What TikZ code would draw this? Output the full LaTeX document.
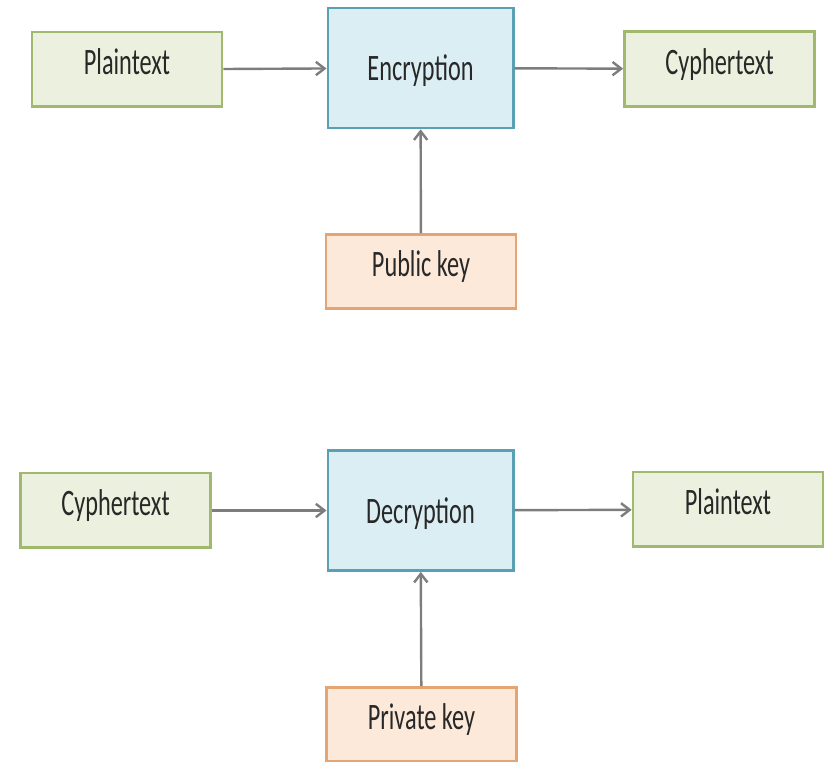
\documentclass[tikz,border=0pt]{standalone}
\usepackage{fontspec}
\setmainfont{Carlito}[FakeStretch=0.65]
\usetikzlibrary{arrows.meta,positioning}

\definecolor{plainfill}{RGB}{235,241,222}
\definecolor{plainline}{RGB}{160,185,110}
\definecolor{cryptfill}{RGB}{219,238,244}
\definecolor{cryptline}{RGB}{90,160,180}
\definecolor{keyfill}{RGB}{253,233,217}
\definecolor{keyline}{RGB}{228,165,115}
\definecolor{flowgray}{RGB}{125,125,125}
\definecolor{labelgray}{RGB}{40,40,40}

\begin{document}
\begin{tikzpicture}[
    x=0.75pt, y=-0.75pt,
    >={Straight Barb[length=6.5pt,width=10pt]},
    font=\fontsize{28}{30}\selectfont,
    box/.style={draw, line width=2pt, text=labelgray, inner sep=0pt},
    plainbox/.style={box, fill=plainfill, draw=plainline,
        minimum width=142.5pt, minimum height=56pt, text height=20pt, text depth=12pt},
    cryptbox/.style={box, fill=cryptfill, draw=cryptline,
        minimum width=139pt, minimum height=90pt, text height=20pt, text depth=1pt},
    keybox/.style={box, fill=keyfill, draw=keyline,
        minimum width=142.5pt, minimum height=55.5pt, text height=20pt, text depth=12pt},
    flow/.style={->, draw=flowgray, line width=1.8pt}
]
    \useasboundingbox (0,0) rectangle (833,762);

    % --- encryption ---
    \node[plainbox] (plainA) at (127,69.5) {Plaintext};
    \node[cryptbox] (enc)    at (420.5,68) {Encryption};
    \node[plainbox] (cyphA)  at (719.5,69) {Cyphertext};
    \node[keybox]   (pub)    at (421,271.5) {Public key};

    \draw[flow] (plainA) -- (enc);
    \draw[flow] (enc) -- (cyphA);
    \draw[flow] (pub) -- (enc);

    % --- decryption ---
    \node[plainbox] (cyphB) at (115.5,510.5) {Cyphertext};
    \node[cryptbox] (dec)   at (420.5,510.5) {Decryption};
    \node[plainbox] (plainB) at (728,509.5) {Plaintext};
    \node[keybox]   (priv)  at (421.5,724.5) {Private key};

    \draw[flow] (cyphB) -- (dec);
    \draw[flow] (dec) -- (plainB);
    \draw[flow] (priv) -- (dec);
\end{tikzpicture}
\end{document}
